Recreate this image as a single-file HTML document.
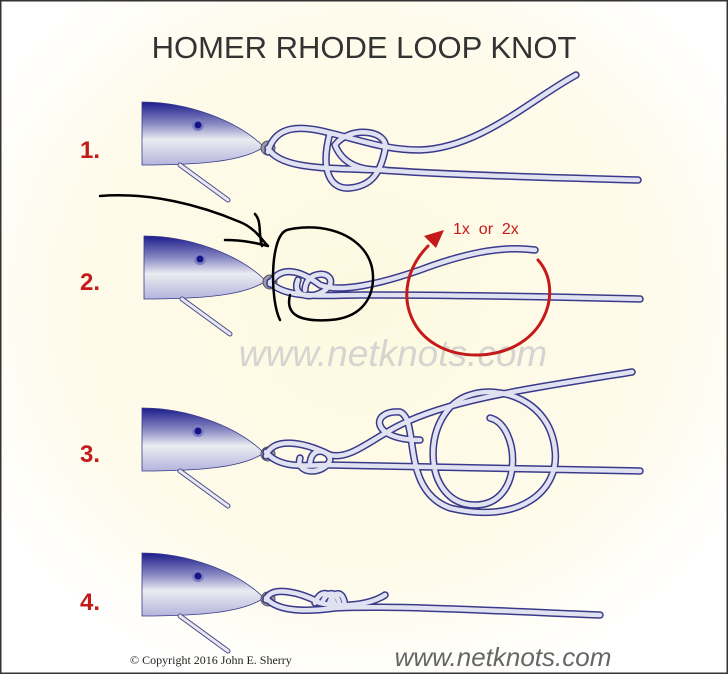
<!DOCTYPE html>
<html><head><meta charset="utf-8"><style>
html,body{margin:0;padding:0;}
body{width:728px;height:674px;overflow:hidden;}
</style></head><body>
<svg width="728" height="674" viewBox="0 0 728 674" xmlns="http://www.w3.org/2000/svg" font-family="Liberation Sans, sans-serif">
<defs>
<radialGradient id="bg" cx="0.5" cy="0.45" r="0.6">
<stop offset="0" stop-color="#fdf9e0"/><stop offset="0.7" stop-color="#fefbec"/><stop offset="1" stop-color="#ffffff"/>
</radialGradient>
<linearGradient id="lure" x1="0" y1="0" x2="0" y2="1">
<stop offset="0" stop-color="#1c1c8c"/><stop offset="0.35" stop-color="#8a8ac4"/><stop offset="0.6" stop-color="#ececf2"/><stop offset="1" stop-color="#b4b4dc"/>
</linearGradient>
<g id="L">
<path d="M0,0 C45,0 95,18 122,45 C100,60 55,63 0,63 Z" fill="url(#lure)" stroke="#3a3a8a" stroke-width="0.8"/>
<circle cx="56" cy="23" r="6" fill="#7c7cc0"/><circle cx="56" cy="23" r="3.5" fill="#15158a"/>
<line x1="38" y1="63" x2="86" y2="98" stroke="#4a4a8a" stroke-width="5" stroke-linecap="round"/>
<line x1="38" y1="63" x2="86" y2="98" stroke="#e8e8f2" stroke-width="3" stroke-linecap="round"/>
<circle cx="126" cy="46" r="7" fill="#9a9aa8" stroke="#555" stroke-width="1"/>
<circle cx="126" cy="46" r="3" fill="#c8c8d0"/>
</g>
</defs>
<rect width="728" height="674" fill="url(#bg)"/>
<rect x="0.75" y="0.75" width="726.5" height="672.5" fill="none" stroke="#333" stroke-width="1.5"/>
<text x="364" y="58" font-size="31" fill="#333" text-anchor="middle">HOMER RHODE LOOP KNOT</text>
<g font-size="24" font-weight="bold" fill="#c41a1a">
<text x="80" y="158">1.</text><text x="80" y="290">2.</text><text x="80" y="462">3.</text><text x="80" y="610">4.</text>
</g>
<text x="393" y="366" font-size="37" font-style="italic" fill="#d4d4d0" text-anchor="middle">www.netknots.com</text>
<use href="#L" x="142" y="102"/>
<use href="#L" x="144" y="236"/>
<use href="#L" x="142" y="408"/>
<use href="#L" x="142" y="553"/>
<g fill="none" stroke-linecap="round" stroke-linejoin="round">
<g stroke="#3a3a8a" stroke-width="7.5">
<path d="M268,152 C275,125 300,125 330,133 C360,140 385,150 420,150 C480,148 530,100 576,75 M268,148 C280,170 330,168 380,170 C450,175 560,178 638,180 M330,133 C320,170 330,190 350,188 C370,186 380,175 385,150 C390,130 350,125 335,145 C345,170 370,170 385,170"/>
<path d="M270,284 C280,265 300,270 320,285 C340,293 380,284 420,270 C460,255 500,245 535,250 M270,282 C285,300 330,295 360,295 C450,295 560,297 640,299 M298,280 C290,300 320,300 330,285 C335,270 305,270 305,290"/>
<path d="M266,456 C272,438 300,440 330,455 C350,460 370,440 400,425 C450,400 520,390 632,372 M266,452 C280,470 310,465 330,465 C400,466 520,468 640,471 M300,458 C295,475 325,475 330,460 C330,450 310,445 310,465 M420,440 C370,440 370,410 400,412 C420,420 400,490 450,508 C520,525 560,490 555,450 C550,400 500,385 470,395 C420,410 420,505 475,505 C525,505 520,425 490,418"/>
<path d="M266,600 C270,585 300,592 320,603 C340,608 370,605 385,595 M266,598 C280,615 320,610 335,608 C400,605 520,612 600,615 M315,603 C320,590 330,590 335,605 M322,603 C327,590 337,590 340,606 M329,603 C334,590 344,590 345,607"/>
</g>
<g stroke="#e0e2f2" stroke-width="4.5">
<path d="M268,152 C275,125 300,125 330,133 C360,140 385,150 420,150 C480,148 530,100 576,75 M268,148 C280,170 330,168 380,170 C450,175 560,178 638,180 M330,133 C320,170 330,190 350,188 C370,186 380,175 385,150 C390,130 350,125 335,145 C345,170 370,170 385,170"/>
<path d="M270,284 C280,265 300,270 320,285 C340,293 380,284 420,270 C460,255 500,245 535,250 M270,282 C285,300 330,295 360,295 C450,295 560,297 640,299 M298,280 C290,300 320,300 330,285 C335,270 305,270 305,290"/>
<path d="M266,456 C272,438 300,440 330,455 C350,460 370,440 400,425 C450,400 520,390 632,372 M266,452 C280,470 310,465 330,465 C400,466 520,468 640,471 M300,458 C295,475 325,475 330,460 C330,450 310,445 310,465 M420,440 C370,440 370,410 400,412 C420,420 400,490 450,508 C520,525 560,490 555,450 C550,400 500,385 470,395 C420,410 420,505 475,505 C525,505 520,425 490,418"/>
<path d="M266,600 C270,585 300,592 320,603 C340,608 370,605 385,595 M266,598 C280,615 320,610 335,608 C400,605 520,612 600,615 M315,603 C320,590 330,590 335,605 M322,603 C327,590 337,590 340,606 M329,603 C334,590 344,590 345,607"/>
</g>
<path d="M100,196 C150,192 200,205 240,222 C255,228 262,240 268,246 M262,246 C258,232 262,222 255,214 M225,240 C245,240 260,244 268,246" stroke="#000" stroke-width="2.5"/>
<path d="M285,231 C270,240 270,300 280,320 M290,295 C285,315 300,322 330,320 C360,318 372,300 373,280 C374,250 350,232 320,228 C300,226 285,230 285,231" stroke="#000" stroke-width="2.5"/>
<path d="M538,260 C565,290 545,352 480,355 C410,357 385,290 428,246" stroke="#c41a1a" stroke-width="3"/>
</g>
<polygon points="444,230 424,236 436,248" fill="#c41a1a"/>
<text x="453" y="234" font-size="16" fill="#c41a1a" xml:space="preserve">1x  or  2x</text>
<text x="130" y="664" font-size="12" fill="#222" font-family="Liberation Serif, serif">© Copyright  2016  John E. Sherry</text>
<text x="503" y="666" font-size="26" font-style="italic" fill="#666" text-anchor="middle">www.netknots.com</text>
</svg>
</body></html>
